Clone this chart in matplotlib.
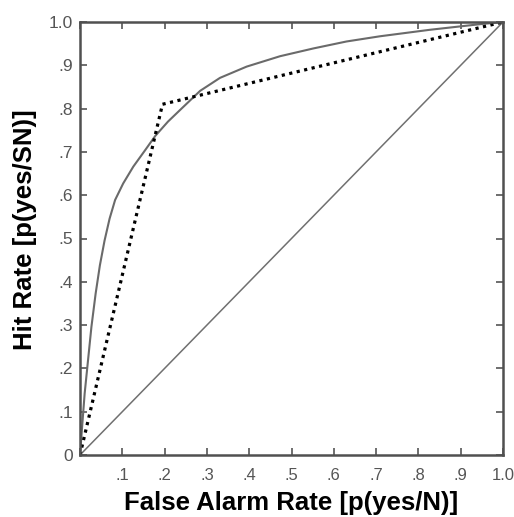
import matplotlib
matplotlib.use("Agg")
import matplotlib.pyplot as plt

# ROC curve
roc_fa  = [0.0, 0.005, 0.011, 0.019, 0.027, 0.037, 0.047, 0.058, 0.070, 0.083, 0.102, 0.126,
           0.154, 0.178, 0.208, 0.240, 0.284, 0.331, 0.394, 0.473, 0.552, 0.630, 0.709,
           0.827, 0.946, 1.0]
roc_hit = [0.0, 0.065, 0.142, 0.219, 0.296, 0.373, 0.438, 0.495, 0.546, 0.589, 0.627, 0.666,
           0.704, 0.737, 0.770, 0.800, 0.841, 0.871, 0.897, 0.921, 0.939, 0.955, 0.967,
           0.982, 0.995, 1.0]

# chance diagonal
diag_fa = [0.0, 1.0]
diag_hit = [0.0, 1.0]

# two-segment (dotted) ROC
seg_fa = [0.0, 0.195, 1.0]
seg_hit = [0.0, 0.81, 1.0]

ticks = [0, 0.1, 0.2, 0.3, 0.4, 0.5, 0.6, 0.7, 0.8, 0.9, 1.0]
x_tick_labels = ["", ".1", ".2", ".3", ".4", ".5", ".6", ".7", ".8", ".9", "1.0"]
y_tick_labels = ["0", ".1", ".2", ".3", ".4", ".5", ".6", ".7", ".8", ".9", "1.0"]

fig = plt.figure(figsize=(5.14, 5.17), dpi=100)
ax = fig.add_axes([80/514, 1 - 455/517, 423/514, 433/517])

gray = "#555555"
ax.plot(roc_fa, roc_hit, color="#6a6a6a", lw=1.5, solid_capstyle="round", solid_joinstyle="round")
ax.plot(diag_fa, diag_hit, color="#707070", lw=1.1)
ax.plot(seg_fa, seg_hit, color="black", lw=2.3, linestyle=(0, (1, 1.4)), dash_capstyle="butt")

ax.set_xlim(0, 1)
ax.set_ylim(0, 1)
ax.set_xticks(ticks)
ax.set_yticks(ticks)
ax.set_xticklabels(x_tick_labels, fontsize=12, color=gray, family="Liberation Sans")
ax.set_yticklabels(y_tick_labels, fontsize=12.5, color=gray, family="Liberation Sans")
ax.tick_params(axis="both", direction="in", length=5, width=1.2, color="#555555",
               top=True, right=True)
ax.tick_params(axis="x", pad=9)
ax.tick_params(axis="y", pad=5)
for s in ax.spines.values():
    s.set_linewidth(1.8)
    s.set_color("#505050")

ax.set_xlabel("False Alarm Rate [p(yes/N)]", fontsize=18.5, fontweight="bold",
              family="Liberation Sans")
ax.set_ylabel("Hit Rate [p(yes/SN)]", fontsize=18.5, fontweight="bold",
              family="Liberation Sans")
ax.xaxis.set_label_coords(0.5, -0.082)
ax.yaxis.set_label_coords(-0.102, 0.52)

fig.savefig("out.png", dpi=100)
